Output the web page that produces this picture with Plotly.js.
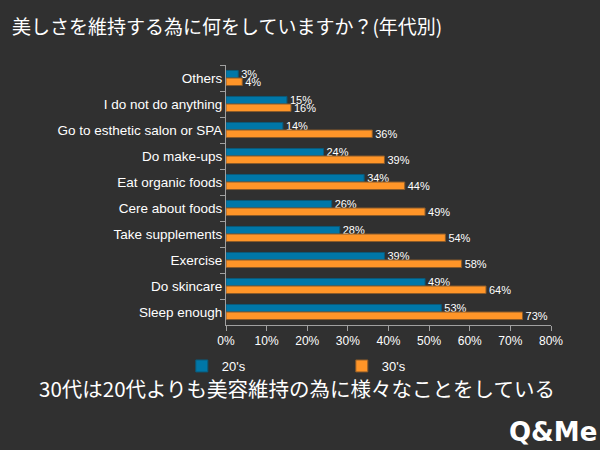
<!DOCTYPE html>
<html><head><meta charset="utf-8">
<script src="https://cdn.plot.ly/plotly-3.0.1.min.js"></script>
<style>html,body{margin:0;padding:0;background:#303030;}#c{width:600px;height:450px;}</style>
</head><body><div id="c"></div>
<script>
const categories = ["Others","I do not do anything","Go to esthetic salon or SPA","Do make-ups","Eat organic foods","Cere about foods","Take supplements","Exercise","Do skincare","Sleep enough"];
const s20 = [3,15,14,24,34,26,28,39,49,53];
const s30 = [4,16,36,39,44,49,54,58,64,73];
const xTicks = [0,10,20,30,40,50,60,70,80];
const xTickLabels = xTicks.map(v => v + "%");
const labelFont = {family:"Liberation Sans, Arial, sans-serif", size:11, color:"#ffffff"};
function tr(name, vals, color, line){
  return {type:"bar", orientation:"h", name:name, y:categories, x:vals,
    marker:{color:color, line:{color:line, width:1}},
    text:vals.map(v=>v+"%"), textposition:"outside", constraintext:"none", textfont:labelFont, cliponaxis:false,
    hoverinfo:"skip"};
}
const data = [tr("20's", s20, "#0077a8", "#0a5a7a"), tr("30's", s30, "#ff9528", "#8a5a2a")];
const layout = {
  width:600, height:450,
  paper_bgcolor:"#303030", plot_bgcolor:"#303030",
  margin:{l:226, r:49, t:65, b:125},
  barmode:"group", bargap:0.42, bargroupgap:0,
  title:{text:"美しさを維持する為に何をしていますか？(年代別)", x:0.02, xanchor:"left", xref:"container", yref:"container", y:0.94, yanchor:"middle",
    font:{family:"Noto Sans CJK JP, sans-serif", size:19, color:"#ffffff"}},
  xaxis:{range:[0,80], tickvals:xTicks, ticktext:xTickLabels, showgrid:false, zeroline:false,
    showline:true, linecolor:"#a0a0a0", linewidth:1, ticks:"outside", ticklen:5, tickcolor:"#a0a0a0",
    tickfont:{family:"Liberation Sans, Arial, sans-serif", size:12, color:"#ffffff"}},
  yaxis:{autorange:"reversed", showgrid:false, showline:true, linecolor:"#a0a0a0", linewidth:1,
    ticks:"outside", ticklen:5, tickcolor:"#a0a0a0", tickson:"boundaries",
    tickfont:{family:"Liberation Sans, Arial, sans-serif", size:13.5, color:"#ffffff"}},
  showlegend:true,
  legend:{orientation:"h", x:0.303, xref:"container", xanchor:"left", y:1-366/450, yref:"container", yanchor:"middle",
    entrywidth:115, entrywidthmode:"pixels", traceorder:"normal", bgcolor:"rgba(0,0,0,0)",
    font:{family:"Liberation Sans, Arial, sans-serif", size:13, color:"#ffffff"}},
  annotations:[
    {text:"30代は20代よりも美容維持の為に様々なことをしている", xref:"paper", yref:"paper", x:(297-226)/325, y:(325-388)/260, xanchor:"center", yanchor:"middle", showarrow:false,
      font:{family:"Noto Sans CJK JP, sans-serif", size:20.5, color:"#ffffff"}},
    {text:"<b>Q&amp;Me</b>", xref:"paper", yref:"paper", x:(599-226)/325, y:(325-432)/260, xanchor:"right", yanchor:"middle", showarrow:false,
      font:{family:"DejaVu Sans, sans-serif", size:26, color:"#ffffff"}}
  ]
};
Plotly.newPlot("c", data, layout, {displayModeBar:false});
</script></body></html>
